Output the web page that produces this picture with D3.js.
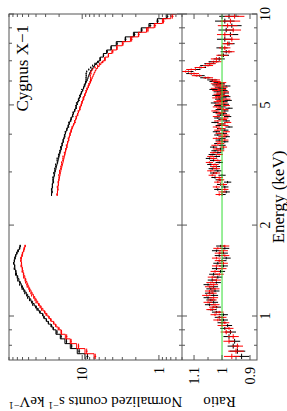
<!DOCTYPE html>
<html>
<head>
<meta charset="utf-8">
<script src="https://cdn.jsdelivr.net/npm/d3@7"></script>
<style>
  html, body { margin: 0; padding: 0; background: #fff; }
  svg { display: block; }
  text { font-family: "Liberation Serif", "Times New Roman", serif; fill: #000; }
</style>
</head>
<body>
<svg id="chart" width="287" height="411"></svg>
<script>
// Energy bin edges (keV) for the two fitted bands
const lowEdges = [0.72, 0.75, 0.78, 0.81, 0.84, 0.87, 0.90, 0.92, 0.94, 0.96, 0.98, 1.00, 1.02, 1.04,
  1.06, 1.08, 1.10, 1.12, 1.14, 1.16, 1.18, 1.20, 1.22, 1.24, 1.26, 1.28, 1.30, 1.33, 1.36, 1.39,
  1.42, 1.45, 1.48, 1.51, 1.54, 1.57, 1.60, 1.63, 1.66, 1.69, 1.72];
const highEdges = [2.50, 2.55, 2.60, 2.65, 2.70, 2.75, 2.80, 2.85, 2.90, 2.95, 3.00, 3.05, 3.10, 3.15,
  3.20, 3.25, 3.30, 3.35, 3.40, 3.45, 3.50, 3.55, 3.60, 3.65, 3.70, 3.75, 3.80, 3.85, 3.90, 3.95,
  4.00, 4.05, 4.10, 4.15, 4.20, 4.25, 4.30, 4.35, 4.40, 4.45, 4.50, 4.55, 4.60, 4.65, 4.70, 4.75,
  4.80, 4.85, 4.90, 4.95, 5.00, 5.05, 5.10, 5.15, 5.20, 5.25, 5.30, 5.35, 5.40, 5.45, 5.50, 5.55,
  5.60, 5.65, 5.70, 5.75, 5.80, 5.85, 5.90, 5.95, 6.00, 6.10, 6.20, 6.30, 6.40, 6.50, 6.60, 6.70,
  6.80, 6.90, 7.00, 7.20, 7.40, 7.60, 7.85, 8.10, 8.40, 8.70, 9.00, 9.30, 9.65, 10.0, 10.35];

// Model, normalized counts s^-1 keV^-1 (black = XIS0, red = XIS1)
const lowBlack = [9.2, 11.6, 14.3, 16.8, 19.3, 22.0, 24.0, 25.6, 27.6, 29.4, 31.3, 32.8, 35.2, 37.4,
  39.6, 42.2, 44.3, 46.8, 49.0, 51.3, 53.6, 55.9, 58.3, 60.0, 62.2, 64.0, 66.8, 69.2, 71.8, 73.2,
  75.3, 76.2, 77.4, 76.6, 75.8, 73.2, 71.3, 67.8, 65.9, 64.2];
const lowRed = [7.0, 9.2, 11.8, 14.3, 16.6, 18.9, 20.6, 22.1, 23.7, 25.4, 27.1, 28.8, 30.6, 32.5,
  34.3, 36.2, 38.0, 39.8, 41.5, 43.3, 45.0, 46.6, 48.3, 49.8, 51.2, 52.5, 54.3, 56.0, 57.8, 59.1,
  60.3, 61.4, 62.1, 62.6, 62.0, 61.2, 59.6, 58.1, 56.4, 55.8];
const highBlack = [25.1, 25.0, 24.8, 24.6, 24.4, 24.1, 23.8, 23.5, 23.1, 22.8, 22.4, 22.0, 21.7, 21.3,
  20.9, 20.6, 20.3, 20.0, 19.7, 19.4, 19.1, 18.8, 18.6, 18.3, 18.1, 17.8, 17.6, 17.3, 17.1, 16.8,
  16.6, 16.3, 16.0, 15.7, 15.4, 15.1, 14.8, 14.6, 14.3, 14.0, 13.8, 13.5, 13.3, 13.1, 12.9, 12.6,
  12.4, 12.2, 12.0, 11.9, 11.7, 11.6, 11.4, 11.2, 11.1, 10.9, 10.7, 10.6, 10.4, 10.3, 10.1, 9.9,
  9.8, 9.6, 9.5, 9.4, 9.2, 9.1, 8.9, 8.8, 8.6, 8.4, 8.2, 8.0, 7.8, 7.5, 7.2, 6.9, 6.5, 6.1,
  5.8, 5.3, 4.8, 4.2, 3.6, 2.75, 2.15, 1.7, 1.35, 1.05, 0.8, 0.62];
const highRed = [21.1, 21.0, 20.9, 20.7, 20.5, 20.3, 20.1, 19.8, 19.5, 19.3, 19.0, 18.7, 18.4, 18.1,
  17.8, 17.6, 17.3, 17.1, 16.8, 16.6, 16.4, 16.1, 15.9, 15.7, 15.5, 15.3, 15.1, 14.9, 14.7, 14.5,
  14.3, 14.1, 13.8, 13.6, 13.3, 13.1, 12.8, 12.6, 12.4, 12.2, 12.0, 11.8, 11.6, 11.4, 11.2, 11.0,
  10.8, 10.7, 10.5, 10.4, 10.2, 10.1, 9.95, 9.8, 9.7, 9.55, 9.4, 9.3, 9.15, 9.0, 8.9, 8.75,
  8.6, 8.5, 8.35, 8.25, 8.1, 8.0, 7.85, 7.75, 7.6, 7.4, 7.2, 7.0, 6.8, 6.6, 6.3, 6.0, 5.7, 5.35,
  5.0, 4.55, 4.1, 3.55, 3.0, 2.35, 1.85, 1.45, 1.15, 0.9, 0.7, 0.58];

// Data / model ratio
const lowRatioBlack = [0.93, 0.945, 0.96, 0.955, 0.975, 0.97, 0.99, 0.98, 1.0, 0.995, 1.01, 0.995,
  1.02, 1.035, 1.02, 1.045, 1.03, 1.04, 1.05, 1.03, 1.045, 1.025, 1.04, 1.03, 1.05, 1.02, 1.035,
  1.015, 1.03, 1.005, 1.02, 0.995, 1.015, 1.0, 0.985, 1.01, 0.995, 1.02, 0.99, 1.005];
const lowRatioRed = [0.965, 0.95, 0.945, 0.975, 0.96, 0.985, 0.975, 1.0, 0.99, 1.015, 1.0, 1.025,
  1.01, 1.04, 1.03, 1.025, 1.05, 1.035, 1.03, 1.055, 1.035, 1.045, 1.025, 1.045, 1.03, 1.04, 1.02,
  1.035, 1.01, 1.025, 1.0, 1.02, 0.995, 1.01, 1.02, 0.99, 1.01, 0.995, 1.015, 0.99];
const highRatioBlack = [1.0, 0.985, 1.015, 0.99, 1.005, 0.98, 1.01, 1.025, 1.0, 1.03,
  1.015, 1.035, 1.02, 1.04, 1.01, 1.03, 1.045, 1.02, 1.035, 1.015,
  1.025, 1.005, 1.03, 1.0, 1.015, 0.99, 1.01, 1.0, 0.985, 1.015,
  0.995, 1.02, 0.99, 1.005, 0.975, 1.01, 1.0, 1.025, 0.985, 1.0,
  1.015, 0.98, 1.005, 0.995, 1.02, 0.99, 1.01, 0.975, 1.0, 1.015,
  0.99, 1.025, 0.995, 0.98, 1.01, 1.0, 0.985, 1.02, 1.005, 0.99,
  1.015, 0.995, 1.03, 1.0, 1.01, 0.985, 1.02, 1.005, 1.015, 1.03,
  1.035, 1.06, 1.08, 1.11, 1.12, 1.095, 1.075, 1.06, 1.045, 1.03,
  1.01, 0.995, 0.985, 1.0, 0.975, 0.99, 0.97, 0.985, 0.965, 0.99, 0.975, 0.995];
const highRatioRed = [1.01, 1.0, 0.99, 1.02, 0.995, 1.015, 1.005, 1.01, 1.035, 1.02,
  1.04, 1.02, 1.03, 1.025, 1.045, 1.015, 1.03, 1.04, 1.01, 1.03,
  1.005, 1.02, 0.995, 1.025, 1.005, 1.01, 0.99, 1.02, 1.0, 0.99,
  1.01, 0.985, 1.015, 1.0, 1.02, 0.99, 1.005, 0.98, 1.015, 0.995,
  0.99, 1.02, 0.985, 1.01, 1.0, 1.025, 0.99, 1.005, 1.02, 0.985,
  1.01, 0.995, 1.015, 1.005, 0.985, 1.02, 1.01, 0.99, 1.015, 1.005,
  0.99, 1.02, 1.0, 1.025, 0.995, 1.015, 1.005, 1.025, 1.0, 1.02,
  1.025, 1.05, 1.09, 1.1, 1.13, 1.11, 1.08, 1.05, 1.04, 1.02,
  1.02, 1.0, 0.975, 0.99, 0.98, 0.965, 0.99, 0.96, 0.98, 0.97, 0.955, 0.985];

// 1-sigma ratio error by energy range: [from keV, to keV, error]
const ratioErrors = [[0.70, 0.78, 0.028], [0.78, 0.90, 0.02], [0.90, 1.80, 0.016],
  [2.4, 5.0, 0.013], [5.0, 6.0, 0.015], [6.0, 7.0, 0.018], [7.0, 8.1, 0.02],
  [8.1, 9.0, 0.028], [9.0, 10.5, 0.035]];

// tick values
const energyLabels = [1, 2, 5, 10];
const countLabels = [1, 10];
const ratioTicks = [0.9, 0.95, 1.0, 1.05, 1.1];
const ratioLabels = [0.9, 1.0, 1.1];

// The figure is laid out in its original (landscape) orientation and then
// turned a quarter turn counter-clockwise, like the published plot.
const svg = d3.select('#chart');
const g = svg.append('g').attr('transform', 'translate(0,411) rotate(-90)');

const pLeft = 51, pRight = 397, pTop = 9, pMid = 182, pBottom = 257;

const x = d3.scaleLog().domain([0.715, 10]).range([pLeft, pRight]);
const yTop = d3.scaleLog().domain([0.5, 90]).range([pMid, pTop]);
const yRat = d3.scaleLinear().domain([0.875, 1.143]).range([pBottom, pMid]);

const defs = svg.append('defs');
defs.append('clipPath').attr('id', 'clipTop')
  .append('rect').attr('x', pLeft).attr('y', pTop).attr('width', pRight - pLeft).attr('height', pMid - pTop);
defs.append('clipPath').attr('id', 'clipRat')
  .append('rect').attr('x', pLeft).attr('y', pMid).attr('width', pRight - pLeft).attr('height', pBottom - pMid);

const topPanel = g.append('g').attr('clip-path', 'url(#clipTop)');
const ratPanel = g.append('g').attr('clip-path', 'url(#clipRat)');

function errAt(e) {
  let band = ratioErrors.find((b) => e >= b[0] && e < b[1]);
  return band ? band[2] : 0.02;
}

// model as a histogram, data as crosses (bin width x error)
function drawSpectrum(edges, model, ratio, color) {
  let pts = model.map((v, i) => [edges[i], v]);
  pts.push([edges[edges.length - 1], model[model.length - 1]]);
  let line = d3.line().x((d) => x(d[0])).y((d) => yTop(d[1])).curve(d3.curveStepAfter);

  model.forEach((m, i) => {
    let e0 = edges[i], e1 = edges[i + 1], ec = Math.sqrt(e0 * e1);
    let d = m * ratio[i], err = m * errAt(ec);
    topPanel.append('line')
      .attr('x1', x(e0)).attr('x2', x(e1))
      .attr('y1', yTop(d)).attr('y2', yTop(d))
      .attr('stroke', color).attr('stroke-width', 1);
    topPanel.append('line')
      .attr('x1', x(ec)).attr('x2', x(ec))
      .attr('y1', yTop(d - err)).attr('y2', yTop(d + err))
      .attr('stroke', color).attr('stroke-width', 1);
  });

  topPanel.append('path')
    .attr('d', line(pts))
    .attr('fill', 'none')
    .attr('stroke', color)
    .attr('stroke-width', 1);
}

function drawRatio(edges, ratio, color) {
  ratio.forEach((v, i) => {
    let e0 = edges[i], e1 = edges[i + 1], ec = Math.sqrt(e0 * e1);
    let err = errAt(ec);
    ratPanel.append('line')
      .attr('x1', x(e0)).attr('x2', x(e1))
      .attr('y1', yRat(v)).attr('y2', yRat(v))
      .attr('stroke', color).attr('stroke-width', 1);
    ratPanel.append('line')
      .attr('x1', x(ec)).attr('x2', x(ec))
      .attr('y1', yRat(v - err)).attr('y2', yRat(v + err))
      .attr('stroke', color).attr('stroke-width', 1);
  });
}

drawRatio(lowEdges, lowRatioBlack, '#000');
drawRatio(highEdges, highRatioBlack, '#000');
drawRatio(lowEdges, lowRatioRed, '#ff0000');
drawRatio(highEdges, highRatioRed, '#ff0000');

// model line (ratio = 1)
ratPanel.append('line')
  .attr('x1', pLeft).attr('x2', pRight)
  .attr('y1', yRat(1)).attr('y2', yRat(1))
  .attr('stroke', '#33dd33').attr('stroke-width', 1);

drawSpectrum(lowEdges, lowBlack, lowRatioBlack, '#000');
drawSpectrum(highEdges, highBlack, highRatioBlack, '#000');
drawSpectrum(lowEdges, lowRed, lowRatioRed, '#ff0000');
drawSpectrum(highEdges, highRed, highRatioRed, '#ff0000');

// frame
const axisColor = '#555';
g.append('rect')
  .attr('x', pLeft).attr('y', pTop)
  .attr('width', pRight - pLeft).attr('height', pBottom - pTop)
  .attr('fill', 'none').attr('stroke', axisColor).attr('stroke-width', 1);
g.append('line')
  .attr('x1', pLeft).attr('x2', pRight).attr('y1', pMid).attr('y2', pMid)
  .attr('stroke', axisColor).attr('stroke-width', 1);

const majorLen = 5, minorLen = 3;
const ticks = g.append('g').attr('stroke', axisColor).attr('stroke-width', 1);

// energy ticks on every horizontal edge, pointing inward
x.ticks().forEach((t) => {
  let len = energyLabels.includes(t) ? majorLen : minorLen;
  [[pTop, len], [pMid, -len], [pMid, len], [pBottom, -len]].forEach(([y0, dl]) => {
    ticks.append('line').attr('x1', x(t)).attr('x2', x(t)).attr('y1', y0).attr('y2', y0 + dl);
  });
});

// counts ticks on both vertical edges of the spectrum panel
yTop.ticks().forEach((t) => {
  let len = countLabels.includes(t) ? majorLen : minorLen;
  ticks.append('line').attr('x1', pLeft).attr('x2', pLeft + len).attr('y1', yTop(t)).attr('y2', yTop(t));
  ticks.append('line').attr('x1', pRight).attr('x2', pRight - len).attr('y1', yTop(t)).attr('y2', yTop(t));
});

// ratio ticks
ratioTicks.forEach((t) => {
  let len = ratioLabels.includes(t) ? majorLen : minorLen;
  ticks.append('line').attr('x1', pLeft).attr('x2', pLeft + len).attr('y1', yRat(t)).attr('y2', yRat(t));
  ticks.append('line').attr('x1', pRight).attr('x2', pRight - len).attr('y1', yRat(t)).attr('y2', yRat(t));
});

// tick labels
const fs = 14;
energyLabels.forEach((t) => {
  g.append('text')
    .attr('x', x(t)).attr('y', pBottom + 13)
    .attr('text-anchor', 'middle')
    .attr('font-size', fs)
    .text(t);
});
countLabels.forEach((t) => {
  g.append('text')
    .attr('x', pLeft - 7).attr('y', yTop(t) + 5)
    .attr('text-anchor', 'end')
    .attr('font-size', fs)
    .text(t);
});
ratioLabels.forEach((t) => {
  g.append('text')
    .attr('x', pLeft - 7).attr('y', yRat(t) + 5)
    .attr('text-anchor', 'end')
    .attr('font-size', fs)
    .text(d3.format('~g')(t));
});

// axis titles
g.append('text')
  .attr('x', (pLeft + pRight) / 2 - 10).attr('y', 284)
  .attr('text-anchor', 'middle')
  .attr('font-size', 17)
  .text('Energy (keV)');

let yTitle = g.append('text')
  .attr('transform', `translate(14,${(pTop + pMid) / 2}) rotate(-90)`)
  .attr('text-anchor', 'middle')
  .attr('font-size', 15);
yTitle.append('tspan').text('Normalized counts s');
yTitle.append('tspan').attr('dy', -5).attr('font-size', 10).text('\u22121');
yTitle.append('tspan').attr('dy', 5).text(' keV');
yTitle.append('tspan').attr('dy', -5).attr('font-size', 10).text('\u22121');

g.append('text')
  .attr('transform', `translate(14,${(pMid + pBottom) / 2}) rotate(-90)`)
  .attr('text-anchor', 'middle')
  .attr('font-size', 15)
  .text('Ratio');

g.append('text')
  .attr('x', 386).attr('y', 28)
  .attr('text-anchor', 'end')
  .attr('font-size', 17)
  .text('Cygnus X\u22121');
</script>
</body>
</html>
